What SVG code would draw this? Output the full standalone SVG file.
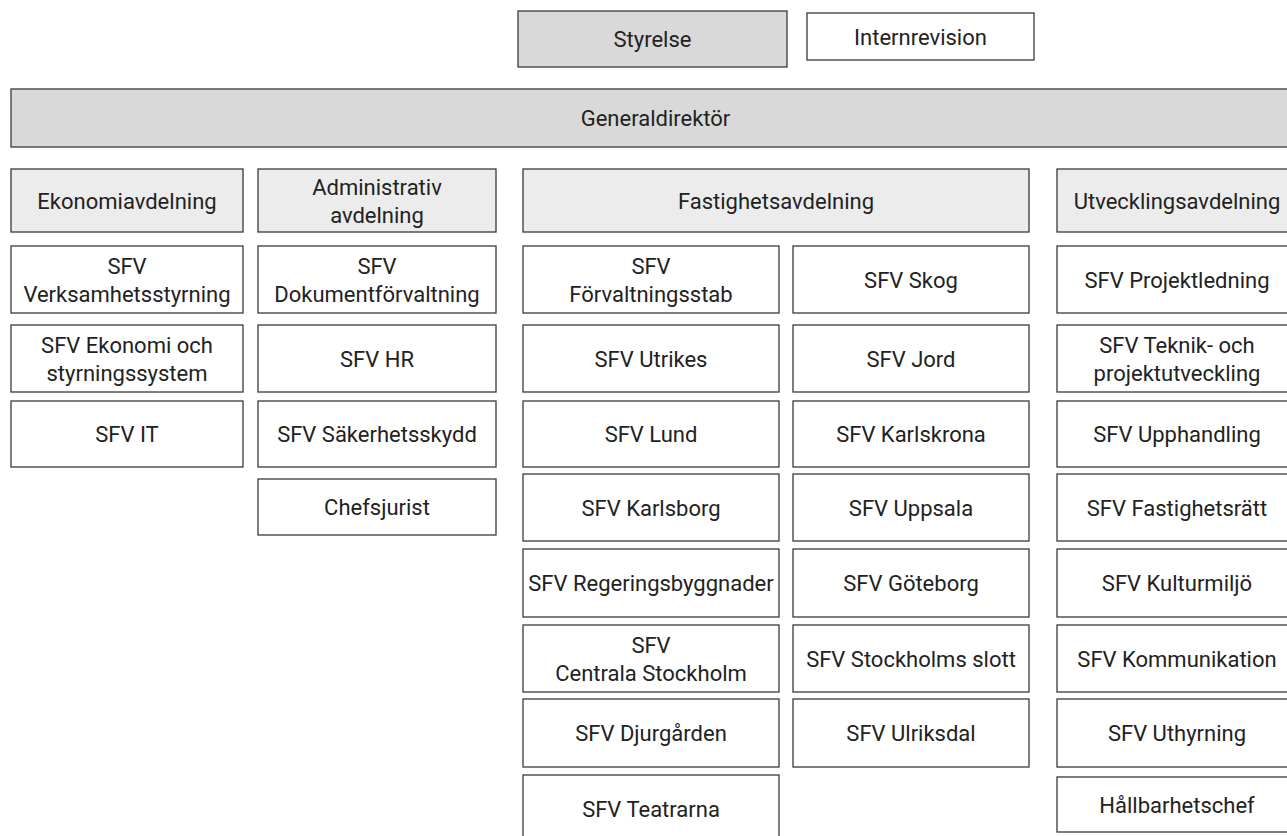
<svg xmlns="http://www.w3.org/2000/svg" width="1287" height="836" viewBox="0 0 1287 836">
<style>
rect{fill:#ffffff;stroke:#3a3a3a;stroke-width:1.3}
rect.top{fill:#d9d9d9}
rect.dept{fill:#ececec}
text{font-family:Roboto,"Liberation Sans",sans-serif;font-size:22px;fill:#222222;text-anchor:middle}
</style>
<rect x="0" y="0" width="1287" height="836" style="fill:#ffffff;stroke:none"/>
<g id="connectors"/>
<g id="styrelse"><rect class="top" x="518" y="11" width="269" height="56"/><text x="652.5" y="47">Styrelse</text></g>
<g id="internrevision"><rect x="807" y="13" width="227" height="47"/><text x="920.5" y="44.5">Internrevision</text></g>
<g id="generaldirektor"><rect class="top" x="11" y="89" width="1289" height="58"/><text x="655.5" y="126">Generaldirektör</text></g>

<g id="ekonomiavdelning"><rect class="dept" x="11" y="169" width="232" height="63"/><text x="127" y="208.5">Ekonomiavdelning</text></g>
<g id="sfv-verksamhetsstyrning"><rect x="11" y="246" width="232" height="67"/><text x="127" y="273.5">SFV</text><text x="127" y="301.5">Verksamhetsstyrning</text></g>
<g id="sfv-ekonomi"><rect x="11" y="325" width="232" height="67"/><text x="127" y="352.5">SFV Ekonomi och</text><text x="127" y="380.5">styrningssystem</text></g>
<g id="sfv-it"><rect x="11" y="401" width="232" height="66"/><text x="127" y="442">SFV IT</text></g>

<g id="administrativ"><rect class="dept" x="258" y="169" width="238" height="63"/><text x="377" y="194.5">Administrativ</text><text x="377" y="222.5">avdelning</text></g>
<g id="sfv-dokument"><rect x="258" y="246" width="238" height="67"/><text x="377" y="273.5">SFV</text><text x="377" y="301.5">Dokumentförvaltning</text></g>
<g id="sfv-hr"><rect x="258" y="325" width="238" height="67"/><text x="377" y="366.5">SFV HR</text></g>
<g id="sfv-sakerhet"><rect x="258" y="401" width="238" height="66"/><text x="377" y="442">SFV Säkerhetsskydd</text></g>
<g id="chefsjurist"><rect x="258" y="479" width="238" height="56"/><text x="377" y="515">Chefsjurist</text></g>

<g id="fastighetsavdelning"><rect class="dept" x="523" y="169" width="506" height="63"/><text x="776" y="208.5">Fastighetsavdelning</text></g>
<g id="sfv-forvaltningsstab"><rect x="523" y="246" width="256" height="67"/><text x="651" y="273.5">SFV</text><text x="651" y="301.5">Förvaltningsstab</text></g>
<g id="sfv-utrikes"><rect x="523" y="325" width="256" height="67"/><text x="651" y="366.5">SFV Utrikes</text></g>
<g id="sfv-lund"><rect x="523" y="401" width="256" height="66"/><text x="651" y="442">SFV Lund</text></g>
<g id="sfv-karlsborg"><rect x="523" y="474" width="256" height="67"/><text x="651" y="515.5">SFV Karlsborg</text></g>
<g id="sfv-regeringsbyggnader"><rect x="523" y="549" width="256" height="68"/><text x="651" y="591">SFV Regeringsbyggnader</text></g>
<g id="sfv-centrala"><rect x="523" y="625" width="256" height="67"/><text x="651" y="652.5">SFV</text><text x="651" y="680.5">Centrala Stockholm</text></g>
<g id="sfv-djurgarden"><rect x="523" y="699" width="256" height="68"/><text x="651" y="741">SFV Djurgården</text></g>
<g id="sfv-teatrarna"><rect x="523" y="775" width="256" height="70"/><text x="651" y="817">SFV Teatrarna</text></g>

<g id="sfv-skog"><rect x="793" y="246" width="236" height="67"/><text x="911" y="287.5">SFV Skog</text></g>
<g id="sfv-jord"><rect x="793" y="325" width="236" height="67"/><text x="911" y="366.5">SFV Jord</text></g>
<g id="sfv-karlskrona"><rect x="793" y="401" width="236" height="66"/><text x="911" y="442">SFV Karlskrona</text></g>
<g id="sfv-uppsala"><rect x="793" y="474" width="236" height="67"/><text x="911" y="515.5">SFV Uppsala</text></g>
<g id="sfv-goteborg"><rect x="793" y="549" width="236" height="68"/><text x="911" y="591">SFV Göteborg</text></g>
<g id="sfv-stockholms-slott"><rect x="793" y="625" width="236" height="67"/><text x="911" y="666.5">SFV Stockholms slott</text></g>
<g id="sfv-ulriksdal"><rect x="793" y="699" width="236" height="68"/><text x="911" y="741">SFV Ulriksdal</text></g>

<g id="utvecklingsavdelning"><rect class="dept" x="1057" y="169" width="240" height="63"/><text x="1177" y="208.5">Utvecklingsavdelning</text></g>
<g id="sfv-projektledning"><rect x="1057" y="246" width="240" height="67"/><text x="1177" y="287.5">SFV Projektledning</text></g>
<g id="sfv-teknik"><rect x="1057" y="325" width="240" height="67"/><text x="1177" y="352.5">SFV Teknik- och</text><text x="1177" y="380.5">projektutveckling</text></g>
<g id="sfv-upphandling"><rect x="1057" y="401" width="240" height="66"/><text x="1177" y="442">SFV Upphandling</text></g>
<g id="sfv-fastighetsratt"><rect x="1057" y="474" width="240" height="67"/><text x="1177" y="515.5">SFV Fastighetsrätt</text></g>
<g id="sfv-kulturmiljo"><rect x="1057" y="549" width="240" height="68"/><text x="1177" y="591">SFV Kulturmiljö</text></g>
<g id="sfv-kommunikation"><rect x="1057" y="625" width="240" height="67"/><text x="1177" y="666.5">SFV Kommunikation</text></g>
<g id="sfv-uthyrning"><rect x="1057" y="699" width="240" height="68"/><text x="1177" y="741">SFV Uthyrning</text></g>
<g id="hallbarhetschef"><rect x="1057" y="777" width="240" height="55"/><text x="1177" y="812.5">Hållbarhetschef</text></g>
</svg>
